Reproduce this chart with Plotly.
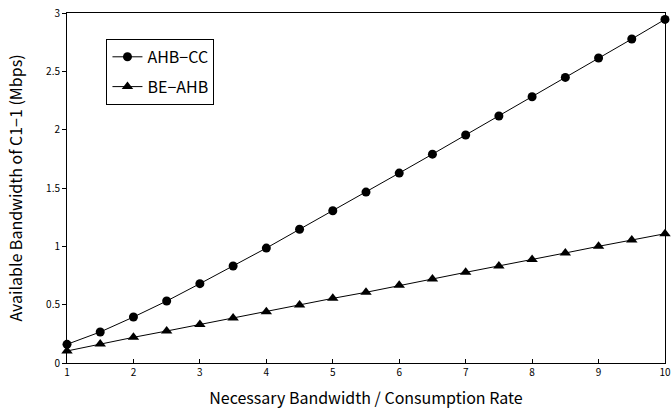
import plotly.graph_objects as go

x_vals = [1, 1.5, 2, 2.5, 3, 3.5, 4, 4.5, 5, 5.5, 6, 6.5, 7, 7.5, 8, 8.5, 9, 9.5, 10]
ahb_cc = [0.16, 0.266, 0.394, 0.531, 0.68, 0.831, 0.985, 1.146, 1.305, 1.465, 1.628,
          1.79, 1.954, 2.117, 2.282, 2.448, 2.614, 2.777, 2.945]
be_ahb = [0.103, 0.163, 0.22, 0.274, 0.331, 0.386, 0.44, 0.497, 0.554, 0.606, 0.666,
          0.72, 0.777, 0.831, 0.888, 0.943, 1.0, 1.054, 1.108]
x_ticks = [1, 2, 3, 4, 5, 6, 7, 8, 9, 10]
y_ticks = [0, 0.5, 1, 1.5, 2, 2.5, 3]
y_tick_text = ["0", "0.5", "1", "1.5", "2", "2.5", "3"]

FONT = "Noto Sans CJK JP, Liberation Sans, sans-serif"

fig = go.Figure()
fig.add_trace(go.Scatter(
    x=x_vals, y=ahb_cc, name="AHB−CC", mode="lines+markers",
    legendgroup="a",
    line=dict(color="black", width=1),
    marker=dict(symbol="circle", size=9, color="black"),
    cliponaxis=False,
))
fig.add_trace(go.Scatter(
    x=x_vals, y=be_ahb, name="BE−AHB", mode="lines+markers",
    legendgroup="b",
    line=dict(color="black", width=1),
    marker=dict(symbol="triangle-up", size=10, color="black"),
    cliponaxis=False,
))

fig.update_layout(
    width=672, height=411,
    margin=dict(l=67, r=7, t=13, b=48),
    paper_bgcolor="white", plot_bgcolor="white",
    font=dict(family=FONT, color="black"),
    showlegend=True,
    legend=dict(
        x=0.066, y=0.926, xanchor="left", yanchor="top",
        bgcolor="white", bordercolor="black", borderwidth=1,
        font=dict(size=16, family=FONT),
        itemwidth=30, tracegroupgap=6,
    ),
    xaxis=dict(
        range=[1, 10], tickvals=x_ticks, ticks="inside", ticklen=4,
        tickcolor="black", showline=True, linecolor="black", linewidth=1,
        mirror=True, showgrid=False, zeroline=False,
        ticklabeloverflow="allow", automargin=False,
        tickfont=dict(size=10, family=FONT),
        title=dict(text="Necessary Bandwidth / Consumption Rate",
                   font=dict(size=16, family=FONT), standoff=14),
    ),
    yaxis=dict(
        range=[0, 3], tickvals=y_ticks, ticktext=y_tick_text, ticks="outside", ticklen=4,
        tickcolor="black", showline=True, linecolor="black", linewidth=1,
        mirror=True, showgrid=False, zeroline=False, automargin=False,
        ticklabeloverflow="allow",
        tickfont=dict(size=10, family=FONT),
        title=dict(text="Available Bandwidth of C1−1 (Mbps)",
                   font=dict(size=16, family=FONT), standoff=19),
    ),
)

fig.write_html("out.html", config={"displayModeBar": False},
               post_script=["document.body.style.margin='0px';"])
